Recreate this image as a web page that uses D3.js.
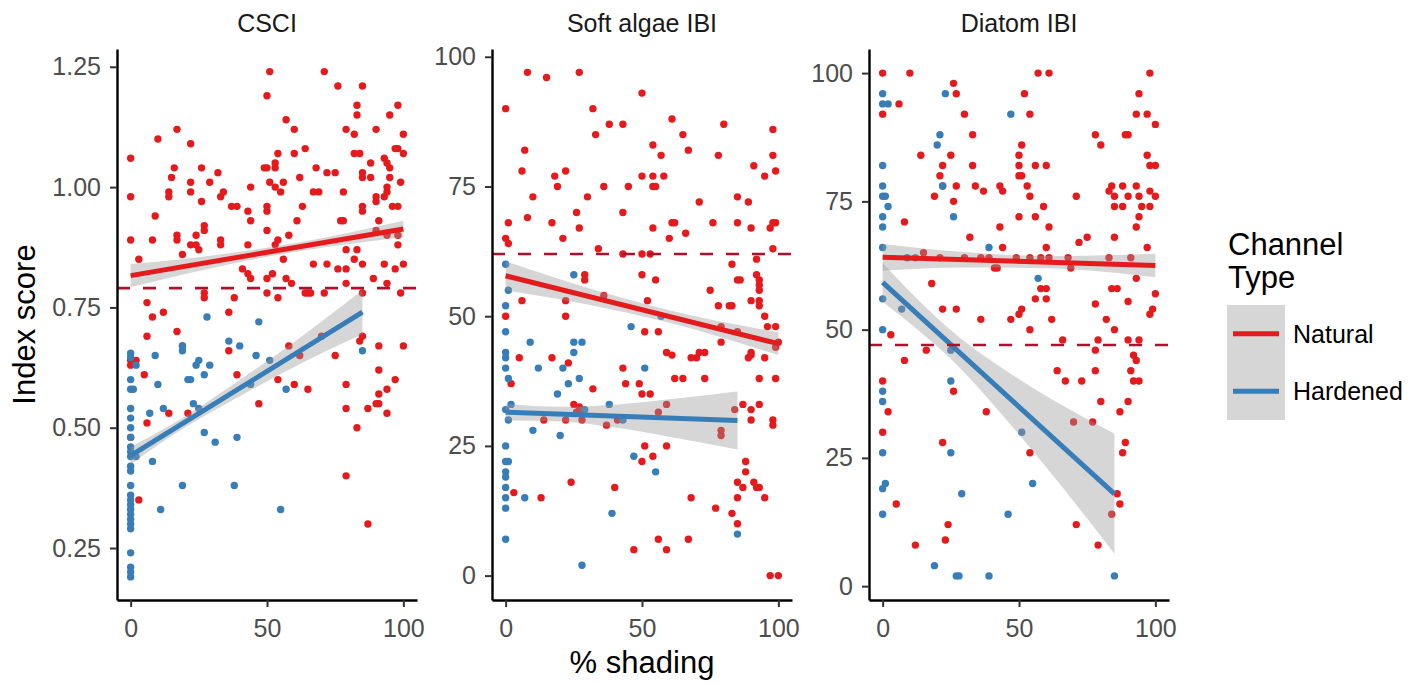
<!DOCTYPE html>
<html>
<head>
<meta charset="utf-8">
<script src="https://d3js.org/d3.v7.min.js"></script>
<style>
  body { margin: 0; background: #fff; }
  svg { display: block; font-family: "Liberation Sans", Arial, sans-serif; }
</style>
</head>
<body>
<script>
//---->DATA<-----//
const panelTitles = ['CSCI', 'Soft algae IBI', 'Diatom IBI'];
const xTicks = [0, 50, 100];
const yTicks = [
  [0.25, 0.50, 0.75, 1.00, 1.25],
  [0, 25, 50, 75, 100],
  [0, 25, 50, 75, 100]
];
const yDomains = [[0.142, 1.287], [-4.7, 101.5], [-2.7, 104.7]];
const refLines = [0.79, 62, 47];
const seriesNames = ['Natural', 'Hardened'];

const csciNatural = [[0,1.06],[0,0.98],[0,0.89],[3,0.85],[10,1.10],[9,0.94],[8,0.89],[17,1.12],[16,1.04],[15,1.02],[14,0.99],[14,0.98],[17,0.90],[17,0.89],[19,0.86],[22,1.09],[22,1.01],[22,0.99],[26,1.04],[26,0.97],[29,1.01],[32,1.03],[33,0.98],[34,0.99],[27,0.92],[27,0.91],[24,0.90],[24,0.88],[22,0.88],[25,0.87],[33,0.89],[33,0.88],[37,0.96],[39,0.96],[43,0.95],[44,0.93],[43,0.88],[41,0.83],[43,0.82],[44,0.81],[44,1.00],[50,1.19],[51,1.24],[49,1.04],[50,1.04],[53,1.04],[53,1.05],[54,1.07],[51,1.01],[53,1.00],[55,0.99],[56,1.01],[50,0.96],[50,0.95],[50,0.91],[54,0.89],[57,1.14],[60,1.12],[60,1.07],[64,1.08],[62,1.02],[63,0.96],[61,0.93],[58,0.90],[53,0.88],[56,0.85],[52,0.82],[57,0.81],[50,0.81],[59,0.80],[68,1.04],[72,1.03],[75,1.03],[71,1.24],[76,1.21],[67,0.99],[69,0.99],[78,0.99],[77,0.93],[78,0.93],[79,1.12],[82,1.11],[83,1.17],[83,1.15],[85,1.21],[82,1.07],[84,1.07],[88,1.05],[90,1.12],[95,1.15],[98,1.17],[100,1.11],[85,1.03],[85,1.02],[88,1.02],[85,0.96],[85,0.95],[90,0.98],[90,0.97],[91,0.93],[93,1.06],[94,1.05],[95,1.04],[95,1.02],[94,1.00],[94,0.99],[93,0.98],[97,1.08],[98,1.08],[100,1.07],[99,1.01],[96,0.96],[98,0.96],[90,0.91],[94,0.90],[98,0.90],[79,0.87],[83,0.87],[82,0.85],[85,0.84],[79,0.83],[76,0.83],[79,0.80],[89,0.81],[94,0.80],[93,0.84],[97,0.83],[100,0.84],[98,0.88],[67,0.84],[72,0.84],[66,0.78],[71,0.78],[65,0.78],[99,0.78],[85,0.78],[50,0.78],[54,0.77],[64,0.78],[38,0.77],[27,0.78],[27,0.77],[6,0.76],[8,0.73],[12,0.74],[6,0.69],[17,0.70],[36,0.74],[85,0.69],[84,0.68],[91,0.67],[100,0.67],[58,0.67],[70,0.69],[36,0.66],[19,0.67],[75,0.65],[62,0.65],[5,0.61],[39,0.61],[60,0.59],[65,0.58],[54,0.60],[79,0.59],[91,0.62],[97,0.60],[94,0.58],[91,0.57],[90,0.55],[91,0.55],[87,0.54],[79,0.54],[94,0.53],[47,0.55],[21,0.53],[14,0.53],[6,0.51],[0,0.48],[0,0.64],[0,0.63],[2,0.64],[83,0.50],[79,0.40],[87,0.30],[3,0.35]];
const csciHardened = [[28,0.73],[47,0.72],[0,0.655],[0,0.646],[2,0.63],[9,0.65],[0,0.60],[0,0.58],[1,0.58],[10,0.59],[7,0.53],[0,0.54],[0,0.52],[0,0.50],[0,0.48],[0,0.46],[0,0.45],[0,0.44],[2,0.44],[0,0.42],[0,0.41],[8,0.43],[0,0.38],[19,0.38],[38,0.38],[11,0.33],[0,0.36],[0,0.35],[0,0.34],[0,0.33],[0,0.32],[0,0.31],[0,0.30],[0,0.29],[0,0.24],[0,0.21],[0,0.20],[0,0.19],[36,0.68],[40,0.67],[46,0.65],[19,0.67],[19,0.66],[25,0.64],[24,0.63],[29,0.63],[27,0.61],[21,0.60],[22,0.60],[23,0.55],[25,0.54],[12,0.54],[27,0.49],[31,0.47],[39,0.48],[57,0.58],[55,0.33],[51,0.64],[44,0.59],[85,0.66]];

const softNatural = [[0,90],[8,97],[15,96],[27,97],[1,68],[0,65],[1,64],[7,82],[6,78],[8,69],[10,73],[17,68],[18,77],[19,75],[21,65],[22,78],[26,70],[27,67],[30,73],[32,90],[33,85],[38,87],[43,87],[36,75],[34,63],[43,70],[45,75],[43,62],[50,93],[50,77],[54,83],[54,77],[54,75],[55,75],[54,67],[57,81],[58,77],[53,62],[50,62],[61,88],[65,85],[67,82],[60,65],[61,68],[62,68],[66,66],[71,72],[76,68],[78,81],[80,87],[85,73],[85,68],[89,72],[91,79],[90,67],[95,77],[98,86],[98,81],[99,78],[97,67],[98,68],[99,68],[98,63],[92,61],[50,58],[55,57],[52,53],[51,47],[56,47],[36,54],[29,58],[29,57],[6,53],[22,53],[22,50],[0,50],[83,60],[85,57],[86,57],[92,58],[93,57],[93,56],[93,55],[93,53],[90,53],[93,52],[95,50],[96,48],[99,48],[75,55],[78,52],[82,52],[83,52],[79,48],[85,47],[79,45],[99,44],[100,45],[5,42],[17,42],[23,41],[43,40],[44,37],[49,37],[50,35],[53,35],[32,36],[25,33],[27,32.5],[28,32],[26,31.5],[28,30],[22,30],[14,30],[2,37],[3,16],[13,15],[24,18],[40,17],[37,29],[41,30],[56,31.5],[59,33],[59,25],[51,25],[50,22],[54,23],[68,15],[77,13],[79,28],[79,27],[83,12],[85,10],[85,15],[85,18],[87,17],[88,22],[88,20],[91,18],[92,17],[93,17],[95,15],[90,30],[90,32],[87,33],[93,33],[98,30],[98,29],[99,38],[93,38],[73,38],[62,38],[65,38],[56,7],[59,5],[67,7],[47,5],[97,0],[100,0],[84,32],[59,43],[61,42.5],[68,42],[70,42],[71,43],[73,43],[90,43],[89,42],[95,42],[90,42.5]];
const softHardened = [[0,60],[1,55],[0,52],[0,47],[25,58],[46,48],[57,50],[0,43],[0,42],[0,40],[1,38],[9,45],[25,45],[28,45],[25,43],[12,40],[21,40],[19,35],[23,37],[27,38],[0,32],[2,33],[1,30],[10,28],[20,27],[38,33],[29,32],[43,30],[51,40],[0,25],[0,22],[1,22],[0,20],[0,19],[0,17],[0,15],[0,13],[7,15],[39,12],[47,23],[55,20],[85,8],[0,7],[28,2]];

const diatomNatural = [[0,100],[10,100],[0,92],[6,94],[26,98],[27,96],[30,92],[14,84],[22,82],[21,80],[25,84],[22,78],[27,78],[19,76],[26,75],[8,71],[33,88],[33,82],[34,78],[37,77],[32,68],[43,78],[44,77],[43,70],[44,66],[42,62],[52,96],[54,92],[50,82],[50,84],[51,86],[50,80],[51,80],[53,78],[54,76],[50,72],[56,72],[57,100],[61,100],[56,82],[60,82],[59,74],[61,70],[60,66],[71,76],[72,67],[75,68],[78,88],[80,86],[83,77],[85,68],[84,78],[85,76],[88,78],[85,74],[88,74],[90,76],[89,88],[90,88],[93,78],[94,76],[94,96],[93,92],[97,92],[98,100],[100,90],[97,84],[98,82],[100,82],[98,77],[100,76],[95,74],[98,74],[94,72],[93,70],[97,66],[93,60],[100,57],[99,54],[98,53],[90,55.5],[84,58],[86,58],[82,52],[85,50],[78,55],[79,48],[66,48],[62,52],[60,58],[60,56],[58,58],[56,56],[51,54],[50,53],[47,52],[36,52],[22,54],[27,54],[54,50],[18,59],[3,49],[15,65],[21,64],[30,64],[36,64],[39,64],[41,62],[49,64],[54,64],[58,64],[61,64],[68,64],[69,62],[83,64],[91,64],[16,46],[8,44],[0,40],[2,34],[0,30],[5,16],[12,8],[22,28],[24,12],[23,9],[26,38],[38,34],[54,26],[64,42],[67,40],[73,40],[71,12],[78,46],[78,42],[80,36],[77,32],[70,32],[79,8],[86,18],[87,16],[87,34],[88,26],[89,28],[90,36],[91,42],[92,40],[94,40],[92,45],[93,44],[90,48],[94,48],[84,14]];
const diatomHardened = [[0,96],[0,94],[2,94],[0,82],[0,78],[0,76],[1,76],[2,74],[0,72],[0,70],[0,66],[0,56],[0,50],[20,86],[21,88],[23,96],[22,78],[26,72],[39,66],[47,92],[57,60],[7,54],[9,64],[12,64],[25,46],[25,40],[0,38],[0,36],[0,26],[1,20],[0,19],[0,14],[25,26],[29,18],[19,4],[27,2],[28,2],[39,2],[46,14],[55,20],[51,30],[85,2]];

// fitted lines [x0, y0, x1, y1]
const fitNatural = [[0, 0.816, 100, 0.913], [0, 57.8, 100, 44.7], [0, 64.1, 100, 62.5]];
const fitHardened = [[0, 0.442, 85, 0.740], [0, 31.5, 85, 29.9], [0, 59.2, 85, 18.0]];
// confidence band half-widths [x, half]
const bandNatural = [
  [[0, 0.024], [30, 0.013], [60, 0.009], [100, 0.017]],
  [[0, 2.8], [30, 1.6], [60, 1.2], [100, 2.2]],
  [[0, 2.6], [30, 1.5], [60, 1.2], [100, 2.3]]
];
const bandHardened = [
  [[0, 0.018], [15, 0.012], [40, 0.017], [60, 0.026], [85, 0.046]],
  [[0, 1.6], [20, 1.4], [40, 2.2], [60, 3.6], [85, 5.6]],
  [[0, 3.8], [12, 3.0], [25, 2.8], [50, 5.4], [85, 11.7]]
];

//---->GLOBAL VARIABLES<-----//
const colors = {Natural: '#E41A1C', Hardened: '#377EB8'};
const points = [
  {Natural: csciNatural, Hardened: csciHardened},
  {Natural: softNatural, Hardened: softHardened},
  {Natural: diatomNatural, Hardened: diatomHardened}
];

let svg;
let outerW = 1421,
    outerH = 686;
let panelLeft = [117, 492, 869],
    panelW = 300,
    panelTop = 49,
    panelBottom = 600;

function fitAt(f, x) {
  return f[1] + (f[3] - f[1]) * (x - f[0]) / (f[2] - f[0]);
}

function drawPanel(i) {
  const x = d3.scaleLinear().domain([-5, 105]).range([panelLeft[i], panelLeft[i] + panelW]);
  const y = d3.scaleLinear().domain(yDomains[i]).range([panelBottom, panelTop]);
  const g = svg.append('g').attr('class', 'panel');

  // points
  seriesNames.forEach(s => {
    g.append('g')
      .selectAll('circle')
      .data(points[i][s])
      .enter()
      .append('circle')
      .attr('cx', d => x(d[0]))
      .attr('cy', d => y(d[1]))
      .attr('r', 3.7)
      .attr('fill', colors[s]);
  });

  // smooth bands + lines
  const fits = {Natural: [fitNatural[i], bandNatural[i]], Hardened: [fitHardened[i], bandHardened[i]]};
  seriesNames.forEach(s => {
    const f = fits[s][0];
    const area = d3.area()
      .x(d => x(d[0]))
      .y0(d => y(fitAt(f, d[0]) - d[1]))
      .y1(d => y(fitAt(f, d[0]) + d[1]))
      .curve(d3.curveMonotoneX);
    g.append('path')
      .attr('d', area(fits[s][1]))
      .attr('fill', '#999999')
      .attr('fill-opacity', 0.4);
  });
  seriesNames.forEach(s => {
    const f = fits[s][0];
    g.append('line')
      .attr('x1', x(f[0])).attr('y1', y(f[1]))
      .attr('x2', x(f[2])).attr('y2', y(f[3]))
      .attr('stroke', colors[s])
      .attr('stroke-width', 5);
  });

  // reference line
  g.append('line')
    .attr('x1', panelLeft[i]).attr('x2', panelLeft[i] + panelW)
    .attr('y1', y(refLines[i])).attr('y2', y(refLines[i]))
    .attr('stroke', '#B0102B')
    .attr('stroke-width', 2.6)
    .attr('stroke-dasharray', '13,13');

  // axes
  const fmt = i === 0 ? d3.format('.2f') : d3.format('d');
  const yAxis = g.append('g')
    .attr('transform', `translate(${panelLeft[i]},0)`)
    .call(d3.axisLeft(y).tickValues(yTicks[i]).tickFormat(fmt).tickSize(7).tickSizeOuter(0).tickPadding(9));
  const xAxis = g.append('g')
    .attr('transform', `translate(0,${panelBottom})`)
    .call(d3.axisBottom(x).tickValues(xTicks).tickSize(7).tickSizeOuter(0).tickPadding(12));
  [xAxis, yAxis].forEach(a => {
    a.select('.domain').attr('stroke', '#000').attr('stroke-width', 2.4);
    a.selectAll('.tick line').attr('stroke', '#333').attr('stroke-width', 2);
    a.selectAll('.tick text')
      .attr('fill', '#4D4D4D')
      .style('font-size', '25px')
      .style('font-family', '"Liberation Sans", Arial, sans-serif');
  });

  // strip title
  svg.append('text')
    .attr('x', panelLeft[i] + panelW / 2)
    .attr('y', 32)
    .attr('text-anchor', 'middle')
    .attr('fill', '#1A1A1A')
    .style('font-size', '25px')
    .text(panelTitles[i]);
}

function drawLegend() {
  const lg = svg.append('g').attr('class', 'legend');
  lg.append('text').attr('x', 1228).attr('y', 255).style('font-size', '31px').text('Channel');
  lg.append('text').attr('x', 1228).attr('y', 288).style('font-size', '31px').text('Type');
  const key = d3.scaleBand().domain(seriesNames).range([305, 420]);
  lg.append('rect')
    .attr('x', 1227).attr('y', 305)
    .attr('width', 58).attr('height', 115)
    .attr('fill', '#999999').attr('fill-opacity', 0.4);
  seriesNames.forEach(s => {
    const cy = key(s) + key.bandwidth() / 2;
    lg.append('line')
      .attr('x1', 1233).attr('x2', 1279)
      .attr('y1', cy).attr('y2', cy)
      .attr('stroke', colors[s]).attr('stroke-width', 5);
    lg.append('text')
      .attr('x', 1293).attr('y', cy)
      .attr('dy', '0.35em')
      .style('font-size', '25px')
      .text(s);
  });
}

function build() {
  svg = d3.select('body').append('svg')
    .attr('width', outerW)
    .attr('height', outerH);

  svg.append('rect').attr('width', outerW).attr('height', outerH).attr('fill', '#fff');

  panelTitles.forEach((t, i) => drawPanel(i));

  svg.append('text')
    .attr('x', panelLeft[1] + panelW / 2)
    .attr('y', 673)
    .attr('text-anchor', 'middle')
    .style('font-size', '31px')
    .text('% shading');

  svg.append('text')
    .attr('transform', `translate(35,${(panelTop + panelBottom) / 2}) rotate(-90)`)
    .attr('text-anchor', 'middle')
    .style('font-size', '31px')
    .text('Index score');

  drawLegend();
}

build();
</script>
</body>
</html>
